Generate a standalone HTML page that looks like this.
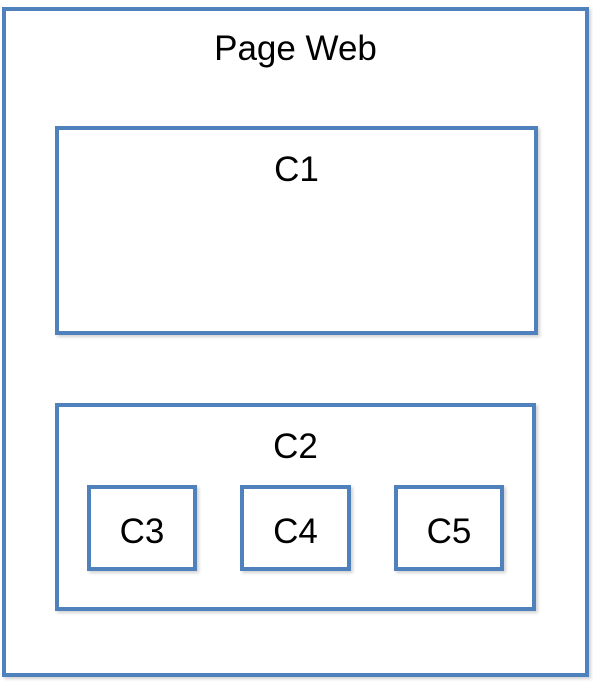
<!DOCTYPE html>
<html><head><meta charset="utf-8"><style>
body{margin:0;width:593px;height:683px;background:#fff;position:relative;overflow:hidden;font-family:"Liberation Sans",sans-serif}
.b{position:absolute;box-sizing:border-box;border:4px solid #4f81bd;box-shadow:2px 2px 3px rgba(0,0,0,0.18)}
.t{position:absolute;left:0;right:0;text-align:center;font-size:35px;color:#000;line-height:1}
</style></head><body>
<div class="b" style="left:2px;top:7px;width:587px;height:670px">
  <div class="t" style="top:20px">Page Web</div>
</div>
<div class="b" style="left:55px;top:126px;width:483px;height:209px">
  <div class="t" style="top:22px">C1</div>
</div>
<div class="b" style="left:55px;top:403px;width:481px;height:208px">
  <div class="t" style="top:22px">C2</div>
</div>
<div class="b" style="left:87px;top:485px;width:110px;height:86px">
  <div class="t" style="top:25px">C3</div>
</div>
<div class="b" style="left:240px;top:485px;width:111px;height:86px">
  <div class="t" style="top:25px">C4</div>
</div>
<div class="b" style="left:394px;top:485px;width:110px;height:86px">
  <div class="t" style="top:25px">C5</div>
</div>
</body></html>
